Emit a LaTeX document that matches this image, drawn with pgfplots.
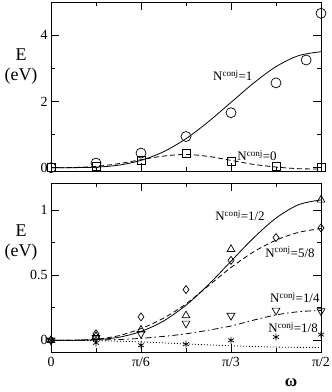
\documentclass[border=0pt]{standalone}
\usepackage{fontspec}
\setmainfont{Liberation Serif}
\usepackage{pgfplots}
\pgfplotsset{compat=1.18}

% x is in steps of pi/12
\pgfplotsset{
  panel/.style={
    scale only axis, width=270bp, height=169bp,
    xmin=0, xmax=6,
    xtick={0,2,4,6}, minor xtick={1,3,5},
    major tick length=8bp, minor tick length=4bp,
    every tick/.style={black, line width=0.8bp},
    axis line style={line width=0.9bp},
    tick label style={font=\fontsize{14}{16}\selectfont},
    xticklabel style={yshift=-2bp},
    /pgf/number format/assume math mode=true,
  },
  curve/.style={black, line width=0.8bp, smooth, no marks},
  pts/.style={black, only marks, line width=0.7bp, mark options={fill=none}},
}
\tikzset{lab/.style={font=\fontsize{13}{14}\selectfont, inner sep=0pt}}
\newcommand{\Nc}[1]{N\textsuperscript{conj}=#1}

\begin{document}
\begin{tikzpicture}
\useasboundingbox (-51bp,-40bp) rectangle (281bp,352bp);

% upper panel
\begin{axis}[panel, at={(0,181bp)}, anchor=south west,
  ymin=-0.1, ymax=5,
  xticklabels={},
  ytick={0,2,4}, minor ytick={1,3},
]
\addplot[curve] coordinates {
  (0,0) (0.5,0.001) (1,0.016) (1.5,0.075) (2,0.22) (2.5,0.48) (3,0.875)
  (3.5,1.39) (4,1.97) (4.5,2.55) (5,3.05) (5.5,3.38) (6,3.5)};
\addplot[curve, dash pattern=on 5bp off 3bp] coordinates {
  (0,0) (0.5,0.005) (1,0.04) (1.5,0.12) (2,0.24) (2.5,0.35) (3,0.40)
  (3.5,0.34) (4,0.22) (4.5,0.10) (5,0.02) (5.5,-0.03) (6,-0.04)};
\addplot[pts, mark=o, mark size=5bp] coordinates {
  (0,0) (1,0.14) (2,0.44) (3,0.94) (4,1.66) (5,2.56) (5.67,3.25) (6,4.66)};
\addplot[pts, mark=square, mark size=4bp] coordinates {
  (0,0) (1,0.04) (2,0.22) (3,0.44) (4,0.19) (5,0.05) (6,0.02)};
\node[lab] at (axis cs:4.04,2.78) {\Nc{1}};
\node[lab] at (axis cs:4.58,0.37) {\Nc{0}};
\end{axis}

% lower panel
\begin{axis}[panel, at={(0,0)}, anchor=south west,
  ymin=-0.09, ymax=1.21,
  xticklabels={0,π/6,π/3,π/2},
  ytick={0,0.5,1}, yticklabels={0,0.5,1}, minor ytick={0.25,0.75},
]
\addplot[curve] coordinates {
  (0,0) (0.5,0.0003) (1,0.005) (1.5,0.023) (2,0.068) (2.5,0.148) (3,0.27)
  (3.5,0.428) (4,0.608) (4.5,0.787) (5,0.94) (5.5,1.043) (6,1.08)};
\addplot[curve, dash pattern=on 5bp off 3bp] coordinates {
  (0,0) (0.5,0.001) (1,0.008) (1.5,0.035) (2,0.09) (2.5,0.17) (3,0.28)
  (3.5,0.42) (4,0.56) (4.5,0.68) (5,0.77) (5.5,0.83) (6,0.86)};
\addplot[curve, dash pattern=on 6bp off 3bp on 1.5bp off 3bp] coordinates {
  (0,0) (1,0.002) (1.5,0.006) (2,0.015) (2.5,0.03) (3,0.05) (3.5,0.078)
  (4,0.11) (4.5,0.155) (5,0.195) (5.5,0.22) (6,0.23)};
\addplot[curve, dash pattern=on 1bp off 2bp] coordinates {
  (0,0) (1,-0.003) (2,-0.012) (3,-0.028) (4,-0.042) (5,-0.052) (6,-0.056)};
% N=1/2
\addplot[pts, mark=triangle, mark size=4.5bp] coordinates {
  (0,0) (1,0.03) (2,0.08) (3,0.19) (4,0.70) (6,1.08)};
% N=5/8
\addplot[pts, mark=diamond, mark size=4bp] coordinates {
  (0,0) (1,0.05) (2,0.18) (3,0.39) (4,0.615) (5,0.79) (6,0.864)};
% N=1/4
\addplot[pts, mark=triangle, mark size=4.5bp, mark options={rotate=180}] coordinates {
  (0,0) (1,0.02) (2,0.05) (3,0.13) (4,0.19) (5,0.23) (6,0.225)};
% N=1/8
\addplot[pts, mark=asterisk, mark size=3.5bp] coordinates {
  (0,0) (1,-0.02) (2,-0.038) (3,-0.03) (4,0.0) (5,0.025) (6,0.044)};
\node[lab] at (axis cs:4.2,0.96) {\Nc{1/2}};
\node[lab] at (axis cs:5.31,0.68) {\Nc{5/8}};
\node[lab] at (axis cs:5.42,0.33) {\Nc{1/4}};
\node[lab] at (axis cs:5.38,0.10) {\Nc{1/8}};
\end{axis}

\node[align=center, font=\fontsize{18}{20}\selectfont] at (-30bp,285bp) {E\\(eV)};
\node[align=center, font=\fontsize{18}{20}\selectfont] at (-30bp,109.5bp) {E\\(eV)};
\node[font=\fontsize{17}{18}\selectfont\bfseries, inner sep=1bp] at (240bp,-31bp) {ω};
\end{tikzpicture}
\end{document}
